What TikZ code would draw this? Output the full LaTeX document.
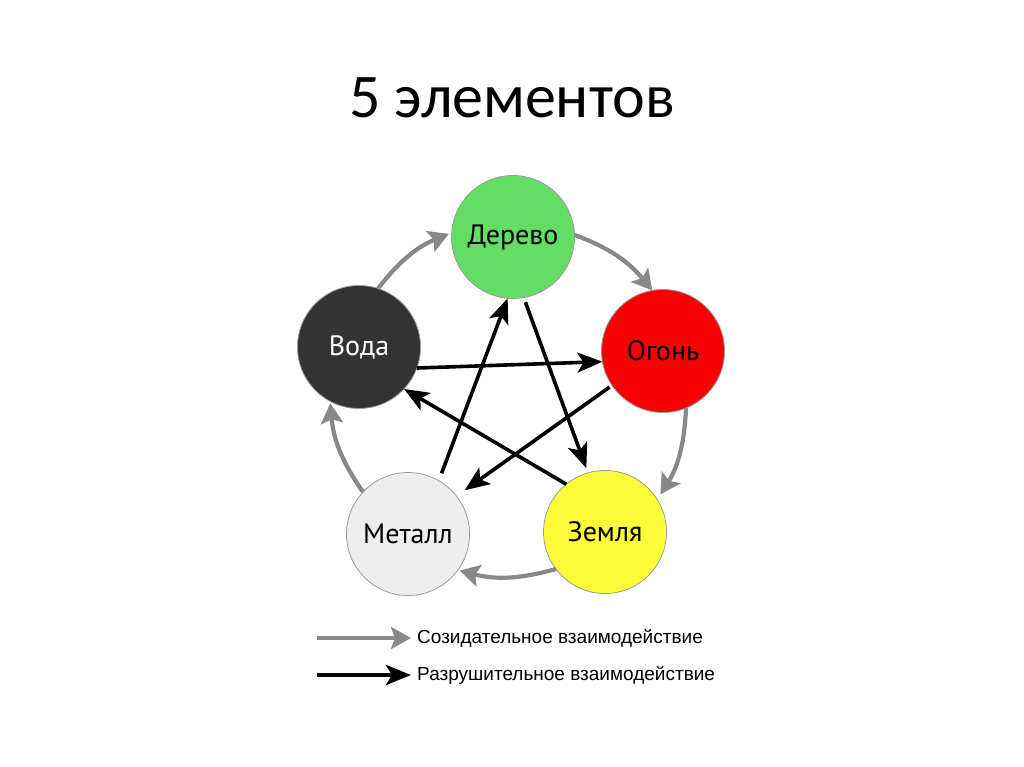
\documentclass[tikz,border=0pt]{standalone}
\usepackage{fontspec}
\setmainfont{Carlito}
\newfontfamily\lblfont{PT Sans}
\newfontfamily\lgfont{Liberation Sans}
\usetikzlibrary{arrows.meta}
\definecolor{cgreen}{HTML}{64DD64}
\definecolor{cred}{HTML}{F80000}
\definecolor{cyellow}{HTML}{FCFC38}
\definecolor{cwater}{HTML}{333333}
\definecolor{cmetal}{HTML}{EEEEEE}
\definecolor{carrow}{HTML}{888888}
\definecolor{cborder}{HTML}{9A9A9A}
\tikzset{
  elem/.style={circle, minimum size=123pt, inner sep=0pt, outer sep=0pt, draw=cborder, line width=0.8pt,
    font=\lblfont\fontsize{28}{32}\selectfont},
  blk/.style={line width=3.6pt, black, -{Stealth[length=25pt,width=20pt,inset=6pt]}},
  gry/.style={line width=4.2pt, carrow, -{Stealth[length=20pt,width=22pt,inset=4pt]}},
  lgtext/.style={anchor=west, inner sep=0pt, font=\lgfont\fontsize{19}{22}\selectfont}
}
\begin{document}
\begin{tikzpicture}[x=1pt,y=-1pt]
\useasboundingbox[fill=white] (0,0) rectangle (1024,767);
\node[font=\fontsize{62}{70}\selectfont, anchor=base] (title) at (512,118) {5 элементов};

\node[elem, fill=cgreen] (derevo) at (513,237) {Дерево};
\node[elem, fill=cred] (ogon) at (663,351) {Огонь};
\node[elem, fill=cyellow] (zemlya) at (605,532) {Земля};
\node[elem, fill=cmetal] (metall) at (408,534) {Металл};
\node[elem, fill=cwater, text=white] (voda) at (359,347) {Вода};

% creative cycle
\draw[gry, shorten >=3pt] (voda.72) to[bend left=15] (derevo.176);
\draw[gry] (derevo.2) to[bend left=15] (ogon.100);
\draw[gry, shorten >=6pt] (ogon.-68) to[bend left=15] (zemlya.32);
\draw[gry, shorten >=2pt] (zemlya.-143) to[bend left=15] (metall.-36);
\draw[gry, shorten >=2pt] (metall.137) to[bend left=15] (voda.-118);

% destructive star
\draw[blk] (voda.-20) -- (ogon.190);
\draw[blk] (zemlya.129) -- (voda.-43);
\draw[blk, shorten <=8pt] (metall.60) -- (derevo.-95);
\draw[blk, shorten <=5pt, shorten >=5pt] (derevo.-80) -- (zemlya.106);
\draw[blk, shorten <=3pt, shorten >=10pt] (ogon.-146) -- (metall.38);

% legend
\coordinate (l1a) at (317,638);
\coordinate (l1b) at (411,638);
\coordinate (l2a) at (317,675);
\coordinate (l2b) at (411,675);
\draw[gry, line width=4pt] (l1a) -- (l1b);
\draw[blk, line width=4pt] (l2a) -- (l2b);
\node[lgtext] (lg1) at (417,638) {Созидательное взаимодействие};
\node[lgtext] (lg2) at (417,675) {Разрушительное взаимодействие};
\end{tikzpicture}
\end{document}
